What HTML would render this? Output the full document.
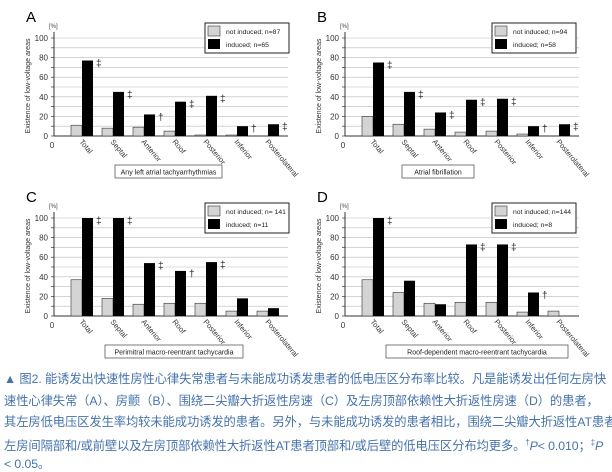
<!DOCTYPE html><html><head><meta charset="utf-8"><style>
body{margin:0;background:#fff;width:612px;height:467px;overflow:hidden;position:relative;font-family:"Liberation Sans","Noto Sans CJK SC",sans-serif}
.cap{position:absolute;left:4px;font-size:12.3px;color:#4673ad;white-space:nowrap;letter-spacing:-0.1px}
</style></head><body>
<svg id="s" width="612" height="370" style="position:absolute;left:0;top:0" font-family="Liberation Sans, sans-serif"></svg>
<div class="cap" style="top:369px">▲ 图2. 能诱发出快速性房性心律失常患者与未能成功诱发患者的低电压区分布率比较。凡是能诱发出任何左房快</div>
<div class="cap" style="top:391px">速性心律失常（A）、房颤（B）、围绕二尖瓣大折返性房速（C）及左房顶部依赖性大折返性房速（D）的患者，</div>
<div class="cap" style="top:412px">其左房低电压区发生率均较未能成功诱发的患者。另外，与未能成功诱发的患者相比，围绕二尖瓣大折返性AT患者</div>
<div class="cap" style="top:436px">左房间隔部和/或前壁以及左房顶部依赖性大折返性AT患者顶部和/或后壁的低电压区分布均更多。<sup style="font-size:8px">†</sup><i>P</i>&lt; 0.010；<sup style="font-size:8px">‡</sup><i>P</i></div>
<div class="cap" style="top:454px">&lt; 0.05。</div>
<script>
const P=[
{l:'A',dx:0,dy:0,g:[11,8,9,5,1,1,0],b:[77,45,22,35,41,10,12],m:['‡','‡','†','‡','‡','†','‡'],n1:'not induced; n=87',n2:'induced; n=65',t:'Any left atrial tachyarrhythmias',tx:115,tw:107},
{l:'B',dx:291,dy:0,g:[20,12,7,4,5,2,0],b:[75,45,24,37,38,10,12],m:['‡','‡','‡','‡','‡','†','‡'],n1:'not induced; n=94',n2:'induced; n=58',t:'Atrial fibrillation',tx:402,tw:72},
{l:'C',dx:0,dy:180,g:[37,18,12,13,13,5,5],b:[100,100,54,46,55,18,8],m:['‡','‡','‡','†','‡','',''],n1:'not induced; n= 141',n2:'induced; n=11',t:'Perimitral macro-reentrant tachycardia',tx:105,tw:138},
{l:'D',dx:291,dy:180,g:[37,24,13,14,14,4,5],b:[100,36,12,73,73,24,0],m:['‡','','','‡','‡','†',''],n1:'not induced; n=144',n2:'induced; n=8',t:'Roof-dependent macro-reentrant tachycardia',tx:386,tw:182}];
const cats=['Total','Septal','Anterior','Roof','Posterior','Inferior','Posterolateral'];
let h='';
for(const p of P){const ax=54+p.dx,y0=136+p.dy,sc=0.98,right=ax+234;
h+=`<text x="${ax-28}" y="${p.dy+22}" font-size="15">${p.l}</text><text x="${ax-5}" y="${p.dy+28}" font-size="6" fill="#444">[%]</text>`;
for(let v=10;v<=100;v+=10){const y=y0-v*sc;h+=`<line x1="${ax}" x2="${right}" y1="${y}" y2="${y}" stroke="#bbb" stroke-width="0.6"/>`;}
h+=`<line x1="${ax}" x2="${ax}" y1="${y0-104}" y2="${y0}" stroke="#333"/><line x1="${ax}" x2="${right}" y1="${y0}" y2="${y0}" stroke="#333"/>`;
for(let v=0;v<=100;v+=10){const y=y0-v*sc;h+=`<line x1="${ax-3}" x2="${ax}" y1="${y}" y2="${y}" stroke="#333" stroke-width="0.7"/>`;if(v%20==0)h+=`<text x="${ax-6}" y="${y+3}" font-size="8" text-anchor="end" fill="#333">${v}</text>`;}
h+=`<text x="${ax-2}" y="${y0+12}" font-size="8" text-anchor="middle" fill="#333">0</text>`;
h+=`<text transform="translate(${ax-24},${y0-50}) rotate(-90)" font-size="7" text-anchor="middle" fill="#333">Existence of low-voltage areas</text>`;
for(let i=0;i<7;i++){const x=ax+17+i*31;const gh=p.g[i]*sc,bh=p.b[i]*sc;
if(p.g[i]>0)h+=`<rect x="${x}" y="${y0-gh}" width="11" height="${gh}" fill="#d4d4d4" stroke="#333" stroke-width="0.6"/>`;
if(p.b[i]>0)h+=`<rect x="${x+11}" y="${y0-bh}" width="11" height="${bh}" fill="#000"/>`;
if(p.m[i])h+=`<text x="${x+25}" y="${y0-Math.max(bh,gh)+6}" font-size="10" fill="#222">${p.m[i]}</text>`;
h+=`<text transform="translate(${x+8},${y0+6}) rotate(50)" font-size="7.5" fill="#333">${cats[i]}</text>`;}
const lx=205+p.dx-4*(p.dx>0),ly=23+p.dy;
h+=`<rect x="${lx}" y="${ly}" width="84" height="30" fill="#fff" stroke="#222"/><rect x="${lx+3}" y="${ly+3}" width="12" height="10" fill="#d4d4d4" stroke="#333" stroke-width="0.6"/><rect x="${lx+3}" y="${ly+16}" width="12" height="10" fill="#000"/><text x="${lx+21}" y="${ly+11}" font-size="6.8" fill="#222">${p.n1}</text><text x="${lx+21}" y="${ly+24}" font-size="6.8" fill="#222">${p.n2}</text>`;
h+=`<rect x="${p.tx}" y="${p.dy+165}" width="${p.tw}" height="13" fill="#fff" stroke="#444" stroke-width="0.7"/><text x="${p.tx+p.tw/2}" y="${p.dy+174.5}" font-size="7" text-anchor="middle" fill="#222">${p.t}</text>`;}
document.getElementById('s').innerHTML=h;
</script>
</body></html>
